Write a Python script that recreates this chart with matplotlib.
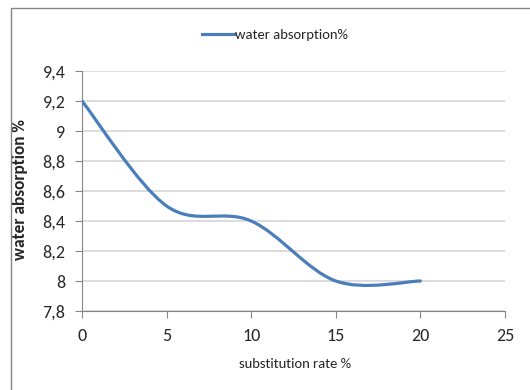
import matplotlib
matplotlib.use("Agg")
import matplotlib.pyplot as plt
from matplotlib.path import Path
from matplotlib.patches import PathPatch, Rectangle
from matplotlib.lines import Line2D
from matplotlib.ticker import FuncFormatter, MultipleLocator

plt.rcParams["font.family"] = ["Carlito", "DejaVu Sans"]

# data
substitution_rate = [0, 5, 10, 15, 20]
water_absorption = [9.2, 8.5, 8.4, 8.0, 8.0]
series_name = "water absorption%"

LINE_COLOR = "#4a7ebb"
GRID_COLOR = "#d9d9d9"
AXIS_COLOR = "#868686"
TEXT_COLOR = "#262626"


def smooth_path(xs, ys):
    # Excel-style smoothed line: cubic bezier segments through the points
    pts = list(zip(xs, ys))
    verts = [pts[0]]
    codes = [Path.MOVETO]
    n = len(pts)
    for i in range(n - 1):
        p0 = pts[max(i - 1, 0)]
        p1 = pts[i]
        p2 = pts[i + 1]
        p3 = pts[min(i + 2, n - 1)]
        c1 = (p1[0] + (p2[0] - p0[0]) / 6, p1[1] + (p2[1] - p0[1]) / 6)
        c2 = (p2[0] - (p3[0] - p1[0]) / 6, p2[1] - (p3[1] - p1[1]) / 6)
        verts += [c1, c2, p2]
        codes += [Path.CURVE4] * 3
    return Path(verts, codes)


def fmt_comma(v, _pos):
    return f"{v:g}".replace(".", ",")


fig = plt.figure(figsize=(5.3, 3.9), dpi=100)
fig.patches.append(Rectangle((11 / 530, -0.05), 1.1, 1 - 8 / 390 + 0.05,
                             transform=fig.transFigure, fill=False,
                             edgecolor=AXIS_COLOR, linewidth=1.0))

ax = fig.add_axes([82 / 530, 1 - 311 / 390, (505 - 82) / 530, (311 - 71) / 390])
ax.add_patch(PathPatch(smooth_path(substitution_rate, water_absorption),
                       facecolor="none", edgecolor=LINE_COLOR, linewidth=2.3,
                       capstyle="round", joinstyle="round", zorder=3))

ax.set_xlim(0, 25)
ax.set_ylim(7.8, 9.4)
ax.xaxis.set_major_locator(MultipleLocator(5))
ax.yaxis.set_major_locator(MultipleLocator(0.2))
ax.yaxis.set_major_formatter(FuncFormatter(fmt_comma))
ax.grid(axis="y", color=GRID_COLOR, linewidth=1.3)
ax.set_axisbelow(True)
for side in ("top", "right"):
    ax.spines[side].set_visible(False)
for side in ("left", "bottom"):
    ax.spines[side].set_color(AXIS_COLOR)
ax.tick_params(colors=AXIS_COLOR, labelcolor=TEXT_COLOR, labelsize=13, length=5)
ax.tick_params(axis="y", pad=7)
ax.tick_params(axis="x", pad=7)

ax.set_xlabel("substitution rate %", fontsize=10.5, color=TEXT_COLOR)
ax.set_ylabel("water absorption %", fontsize=12.5, fontweight="bold", color=TEXT_COLOR)
ax.xaxis.set_label_coords(0.504, -0.195)
ax.yaxis.set_label_coords(-0.127, 0.504)

handle = Line2D([], [], color=LINE_COLOR, linewidth=2.3)
fig.legend([handle], [series_name], loc="center", bbox_to_anchor=(275 / 530, 1 - 35 / 390),
           frameon=False, fontsize=10.5, handlelength=2.2, handletextpad=0.05,
           labelcolor=TEXT_COLOR)

fig.savefig("out.png", dpi=100)
